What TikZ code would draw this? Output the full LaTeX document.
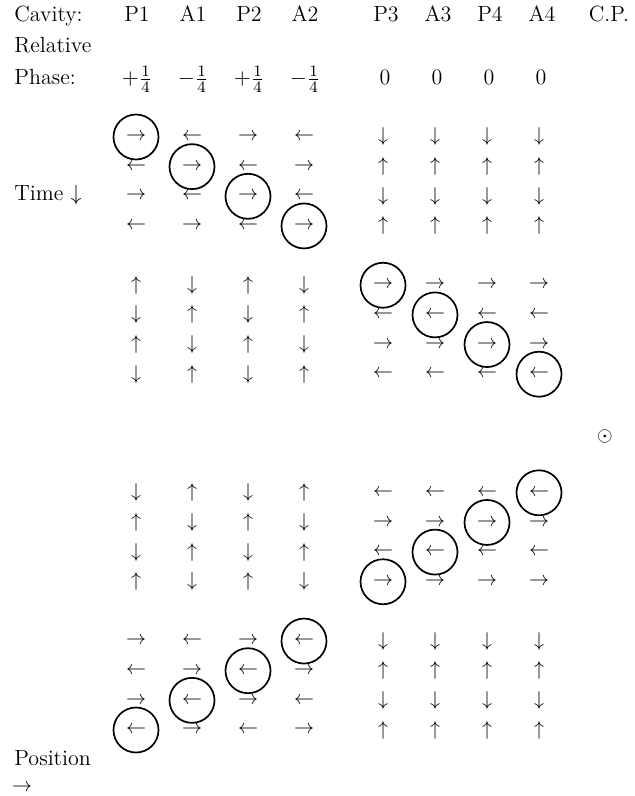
\documentclass[tikz,border=0pt]{standalone}
\newcommand\symr{\rightarrow}
\newcommand\syml{\leftarrow}
\newcommand\symu{\uparrow}
\newcommand\symd{\downarrow}
\begin{document}
\begin{tikzpicture}[x=0.5pt,y=-0.5pt,
  ar/.style={inner sep=0pt},
  lbl/.style={inner sep=0pt,anchor=base,font=\fontsize{11}{13}\selectfont},
  lftlbl/.style={inner sep=0pt,anchor=base west,font=\fontsize{11}{13}\selectfont},
  ring/.style={draw,circle,minimum size=22.5pt,inner sep=0pt,line width=0.85pt}]
\useasboundingbox (0,0) rectangle (634,796);
% header
\node[lftlbl] (cav) at (14,22) {Cavity:};
\foreach \t/\xx [count=\i] in {P1/137,A1/193,P2/249,A2/305,P3/386,A3/438,P4/490,A4/542,C.P./609}
  \node[lbl] (h\i) at (\xx,22) {\t};
\node[lftlbl] (rel) at (14,53) {Relative};
\node[lftlbl] (pha) at (14,85) {Phase:};
\foreach \t/\xx [count=\i] in {{$+\frac14$}/137,{$-\frac14$}/193,{$+\frac14$}/249,{$-\frac14$}/305,0/385,0/437,0/489,0/541}
  \node[lbl] (ph\i) at (\xx,85) {\t};
\node[lftlbl] (time) at (14,201) {Time $\downarrow$};
% arrows
\foreach \nm/\k/\syms in {
  b1r1/0/{r,l,r,l,d,d,d,d}, b1r2/1/{l,r,l,r,u,u,u,u},
  b1r3/2/{r,l,r,l,d,d,d,d}, b1r4/3/{l,r,l,r,u,u,u,u},
  b2r1/5/{u,d,u,d,r,r,r,r}, b2r2/6/{d,u,d,u,l,l,l,l},
  b2r3/7/{u,d,u,d,r,r,r,r}, b2r4/8/{d,u,d,u,l,l,l,l},
  b3r1/12/{d,u,d,u,l,l,l,l}, b3r2/13/{u,d,u,d,r,r,r,r},
  b3r3/14/{d,u,d,u,l,l,l,l}, b3r4/15/{u,d,u,d,r,r,r,r},
  b4r1/17/{r,l,r,l,d,d,d,d}, b4r2/18/{l,r,l,r,u,u,u,u},
  b4r3/19/{r,l,r,l,d,d,d,d}, b4r4/20/{l,r,l,r,u,u,u,u}}{
  \foreach \s [count=\i] in \syms {
    \pgfmathsetmacro\xx{{136,192,248,304,383,435,487,539}[\i-1]}
    \node[ar] (\nm c\i) at (\xx,137+29.65*\k) {$\csname sym\s\endcsname$};
  }
}
% rings
\foreach \t [count=\j] in {b1r1c1,b1r2c2,b1r3c3,b1r4c4,
  b2r1c5,b2r2c6,b2r3c7,b2r4c8,
  b3r1c8,b3r2c7,b3r3c6,b3r4c5,
  b4r1c4,b4r2c3,b4r3c2,b4r4c1}
  \node[ring] (ring\j) at (\t) {};
% current direction
\node[ar] (cp) at (605,436) {$\odot$};
% position
\node[lftlbl] (pos) at (14,765) {Position};
\node[ar] (posar) at (22,788) {$\rightarrow$};
\end{tikzpicture}
\end{document}
